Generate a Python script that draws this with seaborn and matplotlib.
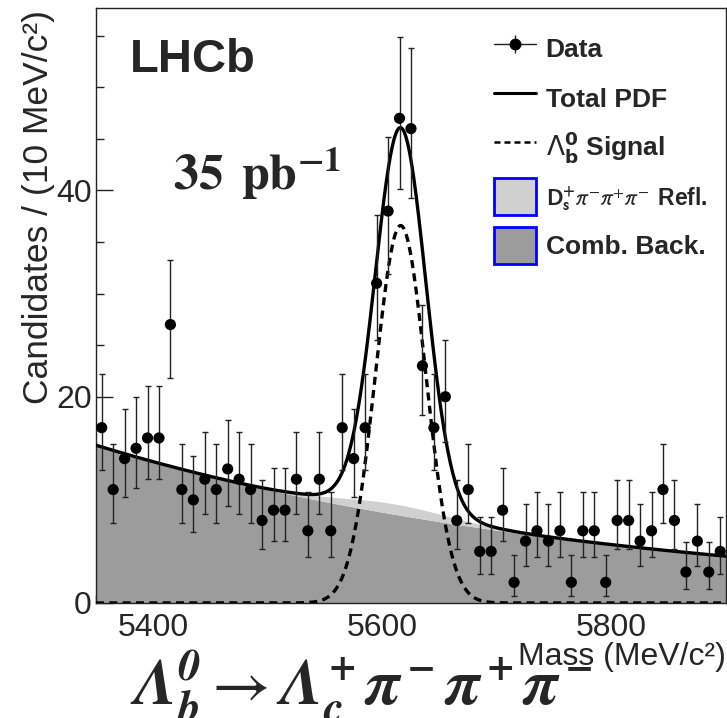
import numpy as np
import pandas as pd
import matplotlib.pyplot as plt
import seaborn as sns
from matplotlib.lines import Line2D
from matplotlib.patches import Patch
from matplotlib.ticker import MultipleLocator
from math import exp, lgamma, log

## data: 10 MeV/c^2 bins from 5350 to 5900
bin_lo, bin_hi, bin_w = 5350, 5900, 10
mass = np.arange(bin_lo + bin_w / 2, bin_hi, bin_w)
counts = [17, 11, 14, 15, 16, 16, 27, 11, 10, 12, 11, 13, 12, 11, 8, 9, 9, 12, 7, 12,
          7, 17, 14, 17, 31, 38, 47, 46, 23, 17, 20, 8, 11, 5, 5, 9, 2, 6, 7, 6,
          7, 2, 7, 7, 2, 8, 8, 6, 7, 11, 8, 3, 6, 3, 5]

## fit components
comb_at_lo = 15.3          # combinatorial background at 5350
comb_slope = -0.00221      # exponential slope per MeV
refl_height, refl_mean, refl_sigma = 1.0, 5610, 50
sig_height, sig_mean, sig_sigma = 36.6, 5616, 22

legend_labels = ['Data', 'Total PDF', r'$\Lambda_\mathbf{b}^\mathbf{0}$ Signal',
                 r'$\mathbf{D_s^{\!+}}\!\pi^{\!-}\!\pi^{\!+}\!\pi^{\!-}$ Refl.', 'Comb. Back.']

dark_grey = '#9c9c9c'
light_grey = '#d0d0d0'


## poisson (garwood) error bars like RooFit
def pois_cdf(k, mu):
    return sum(exp(-mu + i * log(mu) - lgamma(i + 1)) for i in range(k + 1))


def solve(f, target, lo, hi):
    for _ in range(60):
        mid = 0.5 * (lo + hi)
        if f(mid) > target:
            lo = mid
        else:
            hi = mid
    return 0.5 * (lo + hi)


alpha = 0.15866
err_up = [solve(lambda m: pois_cdf(n, m), alpha, n, n + 5 * n ** 0.5 + 5) - n for n in counts]
err_lo = [n - solve(lambda m: pois_cdf(n - 1, m), 1 - alpha, 1e-9, n) for n in counts]

## curves
x_fine = np.linspace(bin_lo, bin_hi, 1101)
comb = comb_at_lo * np.exp(comb_slope * (x_fine - bin_lo))
refl = refl_height * np.exp(-0.5 * ((x_fine - refl_mean) / refl_sigma) ** 2)
sig = sig_height * np.exp(-0.5 * ((x_fine - sig_mean) / sig_sigma) ** 2)
curves = pd.DataFrame({'mass': x_fine, 'signal': sig, 'total': comb + refl + sig})

sns.set_style('ticks')
plt.rcParams['font.family'] = ['Liberation Sans', 'DejaVu Sans']

fig = plt.figure(figsize=(7.27, 7.18), dpi=100)
ax = fig.add_axes([0.132, 0.1602, 0.8666, 0.8287])

ax.fill_between(x_fine, 0, comb, color=dark_grey, lw=0, zorder=1)
ax.fill_between(x_fine, comb, comb + refl, color=light_grey, lw=0, zorder=1)

dash = (0, (2.4, 1.6))
sns.lineplot(data=curves, x='mass', y='signal', ax=ax, color='black', linewidth=2.4,
             linestyle=dash, estimator=None, sort=False, zorder=3)
sns.lineplot(data=curves, x='mass', y='total', ax=ax, color='black', linewidth=2.4,
             estimator=None, sort=False, zorder=4)

ax.errorbar(mass, counts, yerr=[err_lo, err_up], fmt='none', ecolor='#222222',
            elinewidth=1, capsize=2, capthick=1, zorder=5)
sns.scatterplot(x=mass, y=counts, ax=ax, color='black', s=65, marker='o',
                edgecolor='none', zorder=6)

## axes
ax.set_xlim(bin_lo, bin_hi)
ax.set_ylim(0, 57.7)
ax.set_xticks([5400, 5600, 5800])
ax.set_yticks([0, 20, 40])
ax.xaxis.set_minor_locator(MultipleLocator(50))
ax.yaxis.set_minor_locator(MultipleLocator(5))
ax.tick_params(which='both', direction='in', top=False, right=False,
               labelsize=23, color='#222222', width=1)
ax.tick_params(which='major', length=12)
ax.tick_params(which='minor', length=6)
ax.tick_params(axis='x', pad=7)
ax.tick_params(axis='y', pad=3)
for s in ax.spines.values():
    s.set_linewidth(1)
    s.set_color('#222222')

ax.set_xlabel('Mass (MeV/c²)', loc='right', fontsize=23)
ax.xaxis.set_label_coords(1.0, -0.066)
ax.set_ylabel('Candidates / (10 MeV/c²)', fontsize=25.5)
ax.yaxis.label.set(rotation_mode='default', ha='left', va='top')
ax.yaxis.set_label_coords(-0.117, 0.997)

## legend
h_data = (Line2D([], [], color='#222222', lw=1),
          Line2D([], [], ls='none', marker='|', ms=13, mew=1, color='#222222'),
          Line2D([], [], ls='none', marker='o', ms=7.5, color='black'))
h_total = Line2D([], [], color='black', lw=2.2)
h_sig = Line2D([], [], color='black', lw=1.8, ls=dash)
h_refl = Patch(facecolor=light_grey, edgecolor='blue', lw=2)
h_comb = Patch(facecolor=dark_grey, edgecolor='blue', lw=2)
leg = ax.legend([h_data, h_total, h_sig, h_refl, h_comb], legend_labels,
                loc='upper left', bbox_to_anchor=(0.632, 0.962), frameon=False,
                prop={'weight': 'bold', 'size': 19}, handlelength=1.6, handleheight=1.75,
                handletextpad=0.35, labelspacing=0.48, borderpad=0, borderaxespad=0)
refl_text = leg.get_texts()[3]
refl_text.set_fontsize(16.5)
refl_text.set_math_fontfamily('stixsans')

## annotations
ax.text(0.054, 0.892, 'LHCb', transform=ax.transAxes, fontsize=34,
        fontweight='bold', va='baseline')
ax.text(0.122, 0.694, r'$\mathbf{35\ \,pb^{-1}}$', transform=ax.transAxes,
        fontsize=36, math_fontfamily='stix', va='baseline')
fig.text(0.179, 0.018,
         r'$\mathbfit{\Lambda_b^0}\rightarrow\mathbfit{\Lambda_c^+ \pi^- \pi^+ \pi^-}$',
         fontsize=46, math_fontfamily='stix', va='baseline')

plt.savefig('out.png', dpi=100)
